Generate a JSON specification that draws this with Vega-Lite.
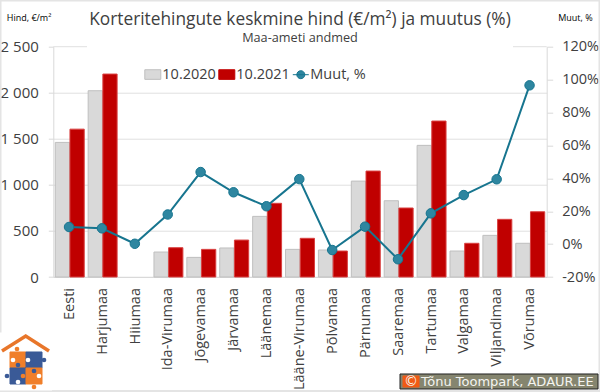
{
"$schema":"https://vega.github.io/schema/vega-lite/v6.json",
"width":493.4,"height":230.3,
"autosize":{"type":"none"},
"padding":{"left":53.3,"top":46.7,"right":53.3,"bottom":115},
"background":"white",
"title":{"text":"Korteritehingute keskmine hind (€/m²) ja muutus (%)","subtitle":"Maa-ameti andmed","anchor":"middle","frame":"group","fontSize":17.3,"subtitleFontSize":12.7,"font":"Open Sans","subtitleFont":"Open Sans","fontWeight":"normal","color":"#404040","subtitleColor":"#404040","offset":-45,"subtitlePadding":4},
"config":{"font":"Open Sans","view":{"stroke":null},"axis":{"labelColor":"#404040","titleColor":"#000000"}},
"datasets":{
"main":[
{"m":"Eesti","a":1461,"b":1605,"p":10.4},
{"m":"Harjumaa","a":2022,"b":2203,"p":9.6},
{"m":"Hiiumaa","a":null,"b":null,"p":0.2},
{"m":"Ida-Virumaa","a":271,"b":318,"p":18},
{"m":"Jõgevamaa","a":213,"b":300,"p":43.8},
{"m":"Järvamaa","a":315,"b":401,"p":31.5},
{"m":"Läänemaa","a":658,"b":800,"p":23},
{"m":"Lääne-Virumaa","a":300,"b":420,"p":39.5},
{"m":"Põlvamaa","a":293,"b":282,"p":-3.6},
{"m":"Pärnumaa","a":1041,"b":1150,"p":10.6},
{"m":"Saaremaa","a":828,"b":749,"p":-9.2},
{"m":"Tartumaa","a":1429,"b":1693,"p":18.7},
{"m":"Valgamaa","a":282,"b":366,"p":29.8},
{"m":"Viljandimaa","a":452,"b":626,"p":39.4},
{"m":"Võrumaa","a":366,"b":708,"p":96.5}
],
"frame":[{"x0":0.5,"x1":599.5,"y0":0.5,"y1":391}],
"rects":[
{"part":"logo-bg","x0":0,"x1":52,"y0":333,"y1":390},
{"part":"orange","x0":10,"x1":26,"y0":352,"y1":368},
{"part":"navy","x0":26,"x1":42,"y0":352,"y1":368},
{"part":"navy","x0":10,"x1":26,"y0":368,"y1":384},
{"part":"orange","x0":26,"x1":42,"y0":368,"y1":384},
{"part":"badge","x0":400,"x1":598,"y0":374,"y1":389},
{"part":"red","x0":403,"x1":419,"y0":376,"y1":387}
],
"knobs":[
{"part":"orange","x":17,"y":349},{"part":"navy","x":44,"y":360},{"part":"navy","x":7,"y":376},{"part":"orange","x":34,"y":387},
{"part":"navy","x":18,"y":365},{"part":"white","x":13,"y":360},{"part":"white","x":28,"y":360},{"part":"navy","x":34,"y":371},
{"part":"orange","x":23,"y":376},{"part":"white","x":39,"y":376},{"part":"white","x":18,"y":382}
],
"roof":[{"x":2,"y":351},{"x":25.7,"y":336},{"x":49,"y":351}],
"grid2500":[{"x0":53.3,"x1":87,"y":46.7},{"x0":513,"x1":546.7,"y":46.7}],
"badgeMark":[{"t":"©","x":411,"y":381.5}],
"badgeText":[{"t":"Tõnu Toompark, ADAUR.EE","x":421,"y":381.5}]
},
"layer":[
{"data":{"name":"frame"},"mark":{"type":"rect","fillOpacity":0,"stroke":"#e4e4e4","strokeWidth":2,"clip":false},
"encoding":{
"x":{"field":"x0","type":"quantitative","scale":{"domain":[0,600],"range":[-53.3,546.7],"nice":false,"zero":false},"axis":null},
"x2":{"field":"x1"},
"y":{"field":"y0","type":"quantitative","scale":{"domain":[0,392],"range":[-46.7,345.3],"nice":false,"zero":false},"axis":null},
"y2":{"field":"y1"}
}},
{"data":{"name":"main"},
"transform":[{"fold":["a","b"],"as":["k","v"]},{"calculate":"datum.k=='a'?'10.2020':'10.2021'","as":"s"}],
"mark":{"type":"bar","strokeWidth":1},
"encoding":{
"x":{"field":"m","type":"nominal","sort":null,"scale":{"domain":["Eesti","Harjumaa","Hiiumaa","Ida-Virumaa","Jõgevamaa","Järvamaa","Läänemaa","Lääne-Virumaa","Põlvamaa","Pärnumaa","Saaremaa","Tartumaa","Valgamaa","Viljandimaa","Võrumaa"],"paddingInner":0.12,"paddingOuter":0.06},"axis":{"title":null,"labelAngle":-90,"labelFontSize":14.5,"labelPadding":10.5,"labelAlign":"right","labelBaseline":"middle","ticks":false,"domainColor":"#d9d9d9","labelOverlap":false,"grid":false}},
"xOffset":{"field":"s","type":"nominal","scale":{"domain":["10.2020","10.2021"],"paddingInner":0.03}},
"y":{"field":"v","type":"quantitative","scale":{"domain":[0,2500]},"axis":{"values":[0,500,1000,1500,2000,2500],"gridOpacity":{"condition":{"test":"datum.value==2500","value":0},"value":1},"labelExpr":"replace(format(datum.value,','),',',' ')","labelFontSize":15,"labelPadding":10,"tickSize":5,"tickColor":"#d9d9d9","domainColor":"#d9d9d9","grid":true,"gridColor":"#e0e0e0","title":"Hind, €/m²","titleFontSize":9,"titleFontWeight":"normal","titleAngle":0,"titleX":-47,"titleY":-29,"titleAlign":"left","titleBaseline":"middle"}},
"color":{"field":"s","type":"nominal","scale":{"domain":["10.2020","10.2021","Muut, %"],"range":["#d9d9d9","#c00000","#2e86a0"]},"legend":{"title":null,"orient":"none","legendX":91,"legendY":19,"direction":"horizontal","labelFontSize":14.5,"labelColor":"#404040","symbolSize":256,"symbolStrokeWidth":1,"symbolOffset":0,"labelOffset":1,"columnPadding":0,"encode":{"symbols":{"update":{"shape":{"signal":"datum.value=='Muut, %'?'M-1,0H1M0.5,0A0.5,0.5 0 1 1 -0.5,0A0.5,0.5 0 1 1 0.5,0Z':'M-1,-0.6H1V0.6H-1Z'"},"stroke":{"signal":"datum.value=='10.2020'?'#bfbfbf':datum.value=='10.2021'?'#c00000':'#17758f'"}}}}}},
"stroke":{"field":"s","type":"nominal","scale":{"domain":["10.2020","10.2021"],"range":["#bfbfbf","#d94040"]},"legend":null}
}},
{"data":{"name":"main"},
"layer":[
{"mark":{"type":"line","color":"#17758f","strokeWidth":2}},
{"mark":{"type":"point","filled":true,"size":90,"fill":"#2e86a0","stroke":"#17758f","strokeWidth":1,"opacity":1}}],
"encoding":{
"x":{"field":"m","type":"nominal","sort":null,"scale":{"type":"band","domain":["Eesti","Harjumaa","Hiiumaa","Ida-Virumaa","Jõgevamaa","Järvamaa","Läänemaa","Lääne-Virumaa","Põlvamaa","Pärnumaa","Saaremaa","Tartumaa","Valgamaa","Viljandimaa","Võrumaa"],"paddingInner":0.12,"paddingOuter":0.06,"range":[-0.7,492.7]},"axis":null},
"y":{"field":"p","type":"quantitative","scale":{"domain":[-20,120]},"axis":{"orient":"right","values":[-20,0,20,40,60,80,100,120],"labelExpr":"datum.value+'%'","labelFontSize":14.5,"labelPadding":9,"tickSize":6,"tickColor":"#d9d9d9","domainColor":"#d9d9d9","grid":false,"title":"Muut, %","titleFontSize":9,"titleFontWeight":"normal","titleAngle":0,"titleX":11,"titleY":-29,"titleAlign":"left","titleBaseline":"middle"}}
}},
{"data":{"name":"grid2500"},"mark":{"type":"rule","color":"#e0e0e0"},
"encoding":{
"x":{"field":"x0","type":"quantitative","scale":{"domain":[0,600],"range":[-53.3,546.7],"nice":false,"zero":false},"axis":null},
"x2":{"field":"x1"},
"y":{"field":"y","type":"quantitative","scale":{"domain":[0,392],"range":[-46.7,345.3],"nice":false,"zero":false},"axis":null}
}},
{"data":{"name":"rects"},"mark":{"type":"rect","clip":false},
"encoding":{
"x":{"field":"x0","type":"quantitative","scale":{"domain":[0,600],"range":[-53.3,546.7],"nice":false,"zero":false},"axis":null},
"x2":{"field":"x1"},
"y":{"field":"y0","type":"quantitative","scale":{"domain":[0,392],"range":[-46.7,345.3],"nice":false,"zero":false},"axis":null},
"y2":{"field":"y1"},
"fill":{"field":"part","type":"nominal","sort":null,"scale":{"domain":["logo-bg","orange","navy","badge","red"],"range":["#ffffff","#f07f2a","#3a5a97","#85856f","#f05a14"]},"legend":null},
"stroke":{"field":"part","type":"nominal","sort":null,"scale":{"domain":["logo-bg","orange","navy","badge","red"],"range":["#ffffff","#f07f2a","#3a5a97","#222222","#f05a14"]},"legend":null}
}},
{"data":{"name":"roof"},"mark":{"type":"line","color":"#e8762a","strokeWidth":3.5},
"encoding":{
"x":{"field":"x","type":"quantitative","scale":{"domain":[0,600],"range":[-53.3,546.7],"nice":false,"zero":false},"axis":null},
"y":{"field":"y","type":"quantitative","scale":{"domain":[0,392],"range":[-46.7,345.3],"nice":false,"zero":false},"axis":null},
"order":{"field":"x"}
}},
{"data":{"name":"knobs"},"mark":{"type":"circle","size":22,"opacity":1},
"encoding":{
"x":{"field":"x","type":"quantitative","scale":{"domain":[0,600],"range":[-53.3,546.7],"nice":false,"zero":false},"axis":null},
"y":{"field":"y","type":"quantitative","scale":{"domain":[0,392],"range":[-46.7,345.3],"nice":false,"zero":false},"axis":null},
"color":{"field":"part","type":"nominal","scale":{"domain":["orange","navy","white"],"range":["#f07f2a","#3a5a97","#ffffff"]},"legend":null}
}},
{"data":{"name":"badgeMark"},"mark":{"type":"text","font":"DejaVu Sans","fontSize":14,"baseline":"middle","align":"center","color":"#f4f4f0"},
"encoding":{
"x":{"field":"x","type":"quantitative","scale":{"domain":[0,600],"range":[-53.3,546.7],"nice":false,"zero":false},"axis":null},
"y":{"field":"y","type":"quantitative","scale":{"domain":[0,392],"range":[-46.7,345.3],"nice":false,"zero":false},"axis":null},
"text":{"field":"t"}
}},
{"data":{"name":"badgeText"},"mark":{"type":"text","font":"DejaVu Sans","fontSize":13,"baseline":"middle","align":"left","color":"#f4f4f0"},
"encoding":{
"x":{"field":"x","type":"quantitative","scale":{"domain":[0,600],"range":[-53.3,546.7],"nice":false,"zero":false},"axis":null},
"y":{"field":"y","type":"quantitative","scale":{"domain":[0,392],"range":[-46.7,345.3],"nice":false,"zero":false},"axis":null},
"text":{"field":"t"}
}}
],
"resolve":{"scale":{"x":"independent","y":"independent","color":"independent","stroke":"independent","fill":"independent"},"axis":{"x":"independent","y":"independent"}}
}
